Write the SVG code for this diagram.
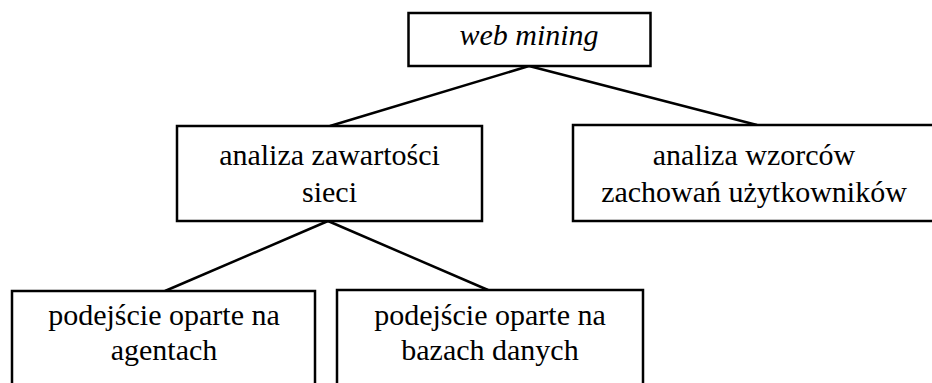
<svg xmlns="http://www.w3.org/2000/svg" width="932" height="383" viewBox="0 0 932 383">
  <style>
    .box { fill: #ffffff; stroke: #000000; stroke-width: 2.5; }
    .edge { fill: none; stroke: #000000; stroke-width: 2.5; }
    .label { font-size: 30px; fill: #000000; text-anchor: middle; }
    .italic { font-style: italic; }
  </style>
  <rect width="932" height="383" fill="#ffffff"/>

  <!-- connectors -->
  <g id="connectors">
    <line class="edge" x1="529" y1="66" x2="330" y2="126"/>
    <line class="edge" x1="529" y1="66" x2="757" y2="125"/>
    <line class="edge" x1="328" y1="221" x2="165" y2="291"/>
    <line class="edge" x1="328" y1="221" x2="488" y2="290"/>
  </g>

  <g font-family="'Times New Roman', Times, 'Liberation Serif', 'DejaVu Serif', 'Noto Serif', serif">
    <!-- root -->
    <g id="web-mining">
      <rect class="box" x="408.5" y="13" width="242" height="53"/>
      <text class="label italic" x="529" y="45">web mining</text>
    </g>

    <!-- second level -->
    <g id="analiza-zawartosci">
      <rect class="box" x="177" y="126" width="305" height="95"/>
      <text class="label" x="329.5" y="165">analiza zawartości</text>
      <text class="label" x="329.5" y="202">sieci</text>
    </g>
    <g id="analiza-wzorcow">
      <rect class="box" x="573" y="125" width="362" height="96"/>
      <text class="label" x="754" y="165">analiza wzorców</text>
      <text class="label" x="754" y="202">zachowań użytkowników</text>
    </g>

    <!-- third level -->
    <g id="podejscie-agenci">
      <rect class="box" x="12" y="291" width="303" height="100"/>
      <text class="label" x="164" y="325">podejście oparte na</text>
      <text class="label" x="164" y="360">agentach</text>
    </g>
    <g id="podejscie-bazy">
      <rect class="box" x="337" y="290" width="306" height="100"/>
      <text class="label" x="490" y="325">podejście oparte na</text>
      <text class="label" x="490" y="360">bazach danych</text>
    </g>
  </g>
</svg>
